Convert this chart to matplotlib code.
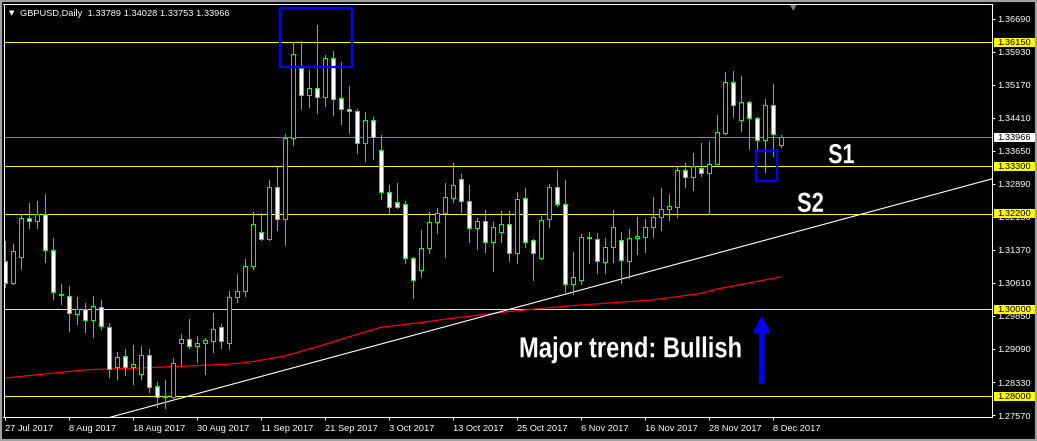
'''GBPUSD daily chart, MT4 style'''

import numpy as np
import pandas as pd
import matplotlib
matplotlib.use('Agg')
import matplotlib.pyplot as plt
from matplotlib import font_manager as fm
from matplotlib.patches import Rectangle, FancyArrow, PathPatch
from matplotlib.textpath import TextPath
from matplotlib.transforms import blended_transform_factory, Affine2D

# daily candles (27 Jul 2017 .. 11 Dec 2017)
OPEN = [1.3112, 1.3062, 1.3122, 1.3210, 1.3203, 1.3221, 1.3136, 1.3035, 1.3032, 1.2989,
        1.3000, 1.2975, 1.3005, 1.2959, 1.2868, 1.2892, 1.2867, 1.2852, 1.2895, 1.2823,
        1.2799, 1.2799, 1.2922, 1.2931, 1.2915, 1.2922, 1.2928, 1.2959, 1.2922, 1.3028,
        1.3042, 1.3099, 1.3178, 1.3162, 1.3281, 1.3208, 1.3394, 1.3555, 1.3493, 1.3509,
        1.3490, 1.3579, 1.3486, 1.3461, 1.3456, 1.3383, 1.3436, 1.3367, 1.3270, 1.3247,
        1.3242, 1.3118, 1.3091, 1.3141, 1.3201, 1.3222, 1.3256, 1.3301, 1.3249, 1.3187,
        1.3203, 1.3155, 1.3179, 1.3196, 1.3129, 1.3256, 1.3159, 1.3118, 1.3208, 1.3281,
        1.3242, 1.3058, 1.3068, 1.3168, 1.3163, 1.3110, 1.3143, 1.3159, 1.3112, 1.3164,
        1.3168, 1.3191, 1.3214, 1.3231, 1.3237, 1.3321, 1.3304, 1.3325, 1.3314, 1.3336,
        1.3406, 1.3523, 1.3436, 1.3477, 1.3440, 1.3390, 1.3470, 1.33789]
HIGH = [1.3158, 1.3151, 1.3221, 1.3246, 1.3250, 1.3266, 1.3164, 1.3058, 1.3054, 1.3029,
        1.3015, 1.3031, 1.3022, 1.2968, 1.2902, 1.2909, 1.2918, 1.2916, 1.2909, 1.2833,
        1.2838, 1.2888, 1.2944, 1.2978, 1.2939, 1.2934, 1.2993, 1.2966, 1.3042, 1.3081,
        1.3116, 1.3224, 1.3222, 1.3298, 1.3329, 1.3403, 1.3615, 1.3618, 1.3552, 1.3655,
        1.3586, 1.3595, 1.3569, 1.3515, 1.3462, 1.3454, 1.3443, 1.3402, 1.3287, 1.3292,
        1.3250, 1.3122, 1.3183, 1.3224, 1.3233, 1.3292, 1.3337, 1.3312, 1.3287, 1.3210,
        1.3228, 1.3202, 1.3227, 1.3227, 1.3270, 1.3280, 1.3162, 1.3215, 1.3289, 1.3321,
        1.3298, 1.3132, 1.3174, 1.3178, 1.3175, 1.3164, 1.3229, 1.3178, 1.3185, 1.3212,
        1.3208, 1.3258, 1.3280, 1.3266, 1.3330, 1.3337, 1.3360, 1.3383, 1.3387, 1.3448,
        1.3546, 1.3549, 1.3538, 1.3479, 1.3443, 1.3484, 1.3519, 1.34028]
LOW = [1.3051, 1.3059, 1.3093, 1.3188, 1.3188, 1.3110, 1.3023, 1.3013, 1.2951, 1.2967,
       1.2949, 1.2937, 1.2956, 1.2845, 1.2841, 1.2850, 1.2829, 1.2839, 1.2811, 1.2776,
       1.2772, 1.2792, 1.2872, 1.2911, 1.2878, 1.2851, 1.2903, 1.2912, 1.2908, 1.3018,
       1.3032, 1.3093, 1.3159, 1.3160, 1.3182, 1.3149, 1.3379, 1.3462, 1.3467, 1.3452,
       1.3469, 1.3448, 1.3427, 1.3407, 1.3361, 1.3341, 1.3347, 1.3255, 1.3222, 1.3233,
       1.3106, 1.3026, 1.3074, 1.3129, 1.3175, 1.3120, 1.3247, 1.3224, 1.3155, 1.3139,
       1.3132, 1.3089, 1.3156, 1.3112, 1.3108, 1.3145, 1.3068, 1.3116, 1.3191, 1.3238,
       1.3041, 1.3036, 1.3058, 1.3108, 1.3085, 1.3083, 1.3110, 1.3060, 1.3072, 1.3128,
       1.3133, 1.3166, 1.3183, 1.3206, 1.3212, 1.3283, 1.3275, 1.3307, 1.3219, 1.3334,
       1.3404, 1.3443, 1.3412, 1.3369, 1.3367, 1.3317, 1.3354, 1.33753]
CLOSE = [1.3060, 1.3135, 1.3210, 1.3203, 1.3221, 1.3136, 1.3040, 1.3034, 1.2993, 1.3000,
         1.2975, 1.3007, 1.2963, 1.2864, 1.2890, 1.2867, 1.2874, 1.2895, 1.2821, 1.2798,
         1.2800, 1.2876, 1.2931, 1.2915, 1.2922, 1.2929, 1.2954, 1.2927, 1.3028, 1.3042,
         1.3099, 1.3196, 1.3162, 1.3281, 1.3208, 1.3394, 1.3588, 1.3493, 1.3509, 1.3490,
         1.3579, 1.3484, 1.3461, 1.3457, 1.3383, 1.3436, 1.3397, 1.3270, 1.3235, 1.3235,
         1.3118, 1.3068, 1.3141, 1.3201, 1.3222, 1.3258, 1.3286, 1.3249, 1.3187, 1.3203,
         1.3155, 1.3189, 1.3196, 1.3129, 1.3254, 1.3156, 1.3129, 1.3205, 1.3281, 1.3242,
         1.3059, 1.3074, 1.3168, 1.3164, 1.3112, 1.3143, 1.3191, 1.3114, 1.3164, 1.3169,
         1.3191, 1.3214, 1.3231, 1.3238, 1.3321, 1.3304, 1.3330, 1.3315, 1.3336, 1.3408,
         1.3523, 1.3470, 1.3477, 1.3440, 1.3390, 1.3470, 1.3403, 1.33966]

# 200-day moving average, read at some bars
MA_BARS = [0, 10, 18, 28, 31, 35, 39, 43, 47, 52, 56, 60, 64, 68, 71, 81, 87, 89, 97]
MA_VALS = [1.2842, 1.2861, 1.2866, 1.2874, 1.2880, 1.2893, 1.2914, 1.2937, 1.2959, 1.2970,
           1.2980, 1.2989, 1.2997, 1.3004, 1.3009, 1.3022, 1.3037, 1.3047, 1.3075]

# support / resistance levels and trend line anchors
LEVELS = [1.3615, 1.3330, 1.3220, 1.3000, 1.2800]
BID = 1.33966
TREND_BARS = [20, 70]
TREND_VALS = [1.2786, 1.3035]
PRICE_TICKS = [1.36690, 1.35930, 1.35170, 1.34410, 1.33650, 1.32890, 1.32130,
               1.31370, 1.30610, 1.29850, 1.29090, 1.28330, 1.27570]

LIME = '#00ff00'
YELLOW = '#ffff00'
BLUE = '#0000ff'

plt.rcParams['font.family'] = ['Liberation Sans', 'DejaVu Sans']
BOLD = fm.FontProperties(family='Liberation Sans', weight='bold')


def narrow_text(ax, xd, yd, s, size_px, squeeze=0.82):
    '''bold text squeezed sideways, like Arial Narrow'''
    path = TextPath((0, 0), s, size=size_px, prop=BOLD)
    x0, y0 = ax.transData.transform((xd, yd))
    tr = Affine2D().scale(squeeze, 1).translate(x0, y0)
    ax.add_artist(PathPatch(path, transform=tr, facecolor='white',
                            edgecolor='none', zorder=6))


W, H = 1037, 441
fig = plt.figure(figsize=(W / 100, H / 100), dpi=100, facecolor='black')
ax = fig.add_axes([3.5 / W, (H - 417) / H, (992 - 3.5) / W, 413 / H], facecolor='black')

o = np.array(OPEN)
h = np.array(HIGH)
l = np.array(LOW)
c = np.array(CLOSE)
x = np.arange(len(o))
dates = pd.bdate_range('2017-07-27', periods=len(o))

# horizontal levels and bid line
for lvl in LEVELS:
    ax.axhline(lvl, color=YELLOW, lw=0.7, zorder=1, antialiased=False)
ax.axhline(BID, color='#778899', lw=0.7, zorder=1, antialiased=False)

# moving average and trend line
ax.plot(MA_BARS, MA_VALS, color='red', lw=0.9, zorder=2)
ax.axline((TREND_BARS[0], TREND_VALS[0]), (TREND_BARS[1], TREND_VALS[1]),
          color='white', lw=0.8, zorder=2)

# candles: white body = bearish, black body = bullish
ax.vlines(x, l, h, color=LIME, lw=0.7, zorder=3, antialiased=False)
body_col = np.where(c >= o, 'black', 'white')
ax.bar(x, np.abs(c - o), bottom=np.minimum(o, c), width=0.5, color=body_col,
       edgecolor=LIME, linewidth=0.7, zorder=4, antialiased=False)

# blue boxes and arrow
ax.add_patch(Rectangle((34.4, 1.3559), 9.0, 0.0136, fill=False, edgecolor=BLUE,
                       lw=1.7, zorder=5, clip_on=False))
ax.add_patch(Rectangle((93.85, 1.3296), 2.65, 0.0070, fill=False, edgecolor=BLUE,
                       lw=1.7, zorder=5))
ax.add_patch(FancyArrow(94.6, 1.2831, 0, 0.0152, width=0.5, head_width=1.9,
                        head_length=0.0035, length_includes_head=True,
                        color=BLUE, zorder=5))

# axes limits, ticks
ax.set_xlim(-0.1875, 123.375)
ax.set_ylim(1.27524, 1.37035)
ax.yaxis.tick_right()
ax.set_yticks(PRICE_TICKS)
ax.set_yticklabels([f'{p:.5f}' for p in PRICE_TICKS])
ax.set_xticks(x[::8])
ax.set_xticklabels([f"{d.day} {d.strftime('%b %Y')}" for d in dates[::8]], ha='left')
ax.tick_params(axis='y', colors='white', length=2.2, width=0.75, pad=1.5, labelsize=6.7)
ax.tick_params(axis='x', colors='white', length=2.2, width=0.75, pad=2.5, labelsize=6.7)
for spine in ax.spines.values():
    spine.set_color('white')
    spine.set_linewidth(0.75)

# annotations (after limits, they are placed through transData)
narrow_text(ax, 64.25, 1.2890, 'Major trend: Bullish', 28.8, 0.825)
narrow_text(ax, 102.9, 1.3337, 'S1', 27.5, 0.78)
narrow_text(ax, 99.0, 1.3225, 'S2', 27.5, 0.8)

# highlighted price labels on the scale
trans = blended_transform_factory(ax.transAxes, ax.transData)
px = 1 / 988.5
for lvl, face in [(v, YELLOW) for v in LEVELS] + [(BID, 'white')]:
    ax.add_patch(Rectangle((1 + 1.5 * px, lvl - 0.00104), 41.5 * px, 0.00208,
                           transform=trans, facecolor=face, edgecolor='none',
                           clip_on=False, zorder=7))
    ax.text(1 + 5 * px, lvl, f'{lvl:.5f}', transform=trans, color='black',
            fontsize=6.7, ha='left', va='center', clip_on=False, zorder=8)

# header text
fig.text(9 / W, 1 - 13 / H, '\u25bc', color='white', fontsize=5,
         family=['DejaVu Sans'], ha='left', va='center')
fig.text(20 / W, 1 - 13 / H, 'GBPUSD,Daily  1.33789 1.34028 1.33753 1.33966',
         color='white', fontsize=6.7, ha='left', va='center')
fig.text(793 / W, 1 - 8 / H, '\u25bc', color='#808080', fontsize=6,
         family=['DejaVu Sans'], ha='center', va='center')

# window border
fig.patches.append(Rectangle((0, 0), 1, 1, transform=fig.transFigure, fill=False,
                             edgecolor='#a0a0a0', lw=3))

fig.savefig('out.png', dpi=100, facecolor='black')
